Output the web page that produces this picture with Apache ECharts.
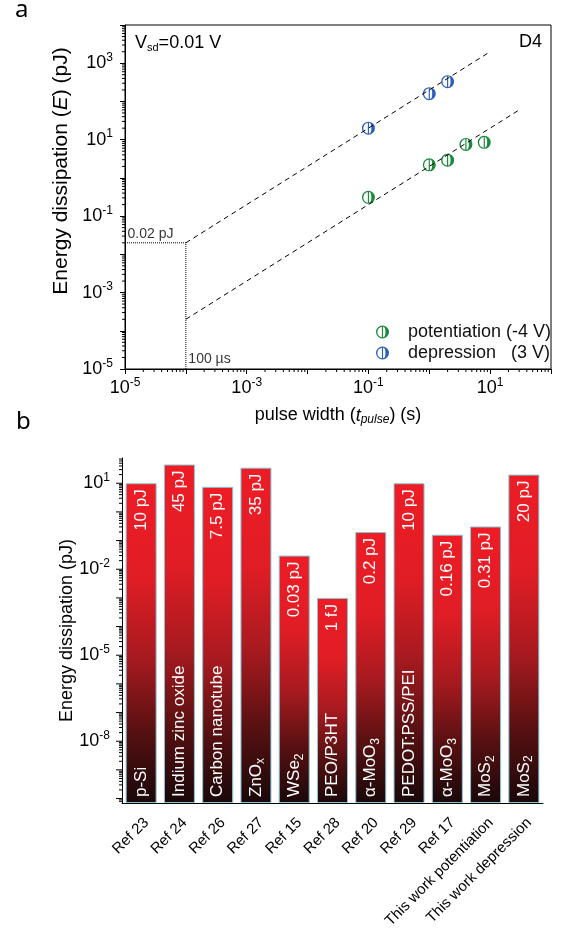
<!DOCTYPE html>
<html>
<head>
<meta charset="utf-8">
<script src="https://cdn.jsdelivr.net/npm/echarts@6.0.0/dist/echarts.min.js"></script>
<style>
html,body{margin:0;padding:0;background:#fff;}
#chart{width:569px;height:929px;}
</style>
</head>
<body>
<div id="chart"></div>
<script>
// a: 能耗 vs 脉冲宽度
var depressionPts = [[0.1, 20], [1, 160], [2, 330]];
var potentiationPts = [[0.1, 0.31], [1, 2.2], [2, 2.9], [4, 7.5], [8, 8.5]];
var fitDepression = [[1e-4, 0.02], [10, 2000]];
var fitPotentiation = [[1e-4, 2e-4], [30, 60]];
var guidePts = [[1e-5, 0.02], [1e-4, 0.02], [1e-4, 1e-5]];
var legendNames = ['potentiation (-4 V)', 'depression   (3 V)'];

// b: 与文献对比
var refNames = ['Ref 23', 'Ref 24', 'Ref 26', 'Ref 27', 'Ref 15', 'Ref 28', 'Ref 20', 'Ref 29', 'Ref 17', 'This work potentiation', 'This work depression'];
var materials = ['p-Si', 'Indium zinc oxide', 'Carbon nanotube', 'ZnO{sub|x}', 'WSe{sub|2}', 'PEO/P3HT', 'α-MoO{sub|3}', 'PEDOT:PSS/PEI', 'α-MoO{sub|3}', 'MoS{sub|2}', 'MoS{sub|2}'];
var energyVals = [10, 45, 7.5, 35, 0.03, 0.001, 0.2, 10, 0.16, 0.31, 20];
var energyText = ['10 pJ', '45 pJ', '7.5 pJ', '35 pJ', '0.03 pJ', '1 fJ', '0.2 pJ', '10 pJ', '0.16 pJ', '0.31 pJ', '20 pJ'];

var FONT = '"Liberation Sans", Arial, sans-serif';
var markerPath = 'path://M0 -10A10 10 0 1 1 0 10A10 10 0 1 1 0 -10ZM-0.9 -8.2A8.3 8.3 0 0 0 -0.9 8.2ZM0.9 -8.2L0.9 8.2A3.6 8.2 0 0 0 0.9 -8.2Z';
var bMin = 7e-11, bMax = 76;

// 对数轴的次刻度 (2..9)
function minorTicks(lo, hi) {
    var out = [];
    for (var k = -12; k <= 4; k++) {
        for (var m = 2; m <= 9; m++) {
            var v = m * Math.pow(10, k);
            if (v > lo && v < hi) out.push(v);
        }
    }
    return out;
}
var topTicks = [];
minorTicks(1e-5, 1e4).forEach(function (v) { topTicks.push([1e-5, v, 0]); });
minorTicks(1e-5, 1e2).forEach(function (v) { topTicks.push([v, 1e-5, 1]); });

var botTicks = [];
for (var k = -11; k <= 2; k++) {
    var d = Math.pow(10, k);
    if (d >= bMin && d <= bMax) botTicks.push([0, d, 1, (k - 1) % 3 === 0 ? 1 : 0]);
}
minorTicks(bMin, bMax).forEach(function (v) { botTicks.push([0, v, 0, 0]); });

function supFmt(v) {
    var e = Math.round(Math.log10(v));
    if (Math.abs(e) % 2 !== 1) return '';
    return '10{sup|' + e + '}';
}
var supRich = { sup: { fontSize: 12, fontFamily: FONT, color: '#000', padding: [0, 0, 11, 0] } };

var barGrad = new echarts.graphic.LinearGradient(0, 0, 0, 1, [
    { offset: 0, color: '#ee1c25' },
    { offset: 0.3, color: '#e01d25' },
    { offset: 0.55, color: '#a61a1f' },
    { offset: 0.78, color: '#561011' },
    { offset: 1, color: '#1a0809' }
]);

var chart = echarts.init(document.getElementById('chart'));
chart.setOption({
    animation: false,
    backgroundColor: '#fff',
    textStyle: { fontFamily: FONT },
    title: [
        {
            text: 'V{sub|sd}=0.01 V', left: 135, top: 33, padding: 0,
            textStyle: { fontSize: 18, fontWeight: 'normal', color: '#000', fontFamily: FONT,
                rich: { sub: { fontSize: 11, fontFamily: FONT, color: '#000', padding: [9, 0, 0, 0] } } }
        },
        {
            text: 'D4', right: 27, top: 33, padding: 0,
            textStyle: { fontSize: 18, fontWeight: 'normal', color: '#000', fontFamily: FONT }
        }
    ],
    graphic: [
        { type: 'text', left: 15, top: -2, style: { text: 'a', font: '24px "Noto Sans", sans-serif', fill: '#000' } },
        { type: 'text', left: 16, top: 410, style: { text: 'b', font: '24px "Noto Sans", sans-serif', fill: '#000' } }
    ],
    legend: {
        orient: 'vertical', left: 376, top: 323, padding: 0, itemGap: 3,
        itemWidth: 13, itemHeight: 13,
        data: [{ name: legendNames[0], icon: markerPath }, { name: legendNames[1], icon: markerPath }],
        textStyle: { fontSize: 18, color: '#111', fontFamily: FONT, padding: [0, 0, 0, 14] }
    },
    grid: [
        { left: 125, top: 25, width: 426, height: 344, show: true, borderColor: '#000', borderWidth: 1, backgroundColor: 'transparent', outerBoundsMode: 'none' },
        { left: 122, top: 458, width: 421, height: 345, outerBoundsMode: 'none' }
    ],
    xAxis: [
        {
            type: 'log', logBase: 10, gridIndex: 0, min: 1e-5, max: 100,
            axisLine: { lineStyle: { color: '#000' } },
            axisTick: { length: 5, lineStyle: { color: '#000' } },
            splitLine: { show: false },
            axisLabel: { formatter: supFmt, fontSize: 18, color: '#000', margin: 8, rich: supRich },
            name: 'pulse width ({i|t}{isub|pulse}) (s)', nameLocation: 'middle', nameGap: 36,
            nameTextStyle: { fontSize: 18, color: '#000', fontFamily: FONT,
                rich: { i: { fontSize: 18, fontStyle: 'italic', fontFamily: FONT, color: '#000' },
                        isub: { fontSize: 12, fontStyle: 'italic', fontFamily: FONT, color: '#000', padding: [9, 0, 0, 0] } } }
        },
        {
            type: 'category', gridIndex: 1, position: 'bottom', data: refNames,
            axisLine: { lineStyle: { color: '#000' } },
            axisTick: { alignWithLabel: true, length: 6, lineStyle: { color: '#000' } },
            axisLabel: { interval: 0, rotate: 45, fontSize: 15, color: '#000', margin: 12, verticalAlign: 'top' }
        },
        {
            type: 'category', gridIndex: 1, position: 'bottom', data: refNames,
            axisLine: { show: false },
            axisTick: { length: 3, interval: 0, lineStyle: { color: '#000' } },
            axisLabel: { show: false }
        }
    ],
    yAxis: [
        {
            type: 'log', logBase: 10, gridIndex: 0, min: 1e-5, max: 1e4,
            axisLine: { lineStyle: { color: '#000' } },
            axisTick: { length: 5, lineStyle: { color: '#000' } },
            splitLine: { show: false },
            axisLabel: { formatter: supFmt, fontSize: 18, color: '#000', margin: 12, rich: supRich },
            name: 'Energy dissipation ({i|E}) (pJ)', nameLocation: 'middle', nameRotate: 90, nameGap: 45,
            nameTextStyle: { fontSize: 21, color: '#000', fontFamily: FONT, padding: [0, 0, 0, 52],
                rich: { i: { fontSize: 21, fontStyle: 'italic', fontFamily: FONT, color: '#000' } } }
        },
        {
            type: 'log', logBase: 10, gridIndex: 1, min: bMin, max: bMax, startValue: bMin,
            axisLine: { show: true, lineStyle: { color: '#000' } },
            axisTick: { show: false },
            axisLabel: { show: false },
            splitLine: { show: false },
            name: 'Energy dissipation (pJ)', nameLocation: 'middle', nameRotate: 90, nameGap: 46,
            nameTextStyle: { fontSize: 18, color: '#000', fontFamily: FONT }
        }
    ],
    series: [
        {
            type: 'custom', xAxisIndex: 0, yAxisIndex: 0, silent: true, data: topTicks,
            renderItem: function (params, api) {
                var cs = params.coordSys;
                var p = api.coord([api.value(0), api.value(1)]);
                if (api.value(2) === 0) {
                    return { type: 'line', shape: { x1: cs.x - 3, y1: p[1], x2: cs.x, y2: p[1] }, style: { stroke: '#000', lineWidth: 1 } };
                }
                var yb = cs.y + cs.height;
                return { type: 'line', shape: { x1: p[0], y1: yb, x2: p[0], y2: yb + 3 }, style: { stroke: '#000', lineWidth: 1 } };
            }
        },
        {
            type: 'line', xAxisIndex: 0, yAxisIndex: 0, data: guidePts, symbol: 'none', silent: true,
            lineStyle: { color: '#000', width: 1, type: 'dotted' }
        },
        {
            type: 'line', xAxisIndex: 0, yAxisIndex: 0, data: fitDepression, symbol: 'none', silent: true,
            lineStyle: { color: '#000', width: 1, type: [5, 4] }
        },
        {
            type: 'line', xAxisIndex: 0, yAxisIndex: 0, data: fitPotentiation, symbol: 'none', silent: true,
            lineStyle: { color: '#000', width: 1, type: [5, 4] }
        },
        {
            name: legendNames[0], type: 'scatter', xAxisIndex: 0, yAxisIndex: 0,
            data: potentiationPts, symbol: markerPath, symbolSize: 13,
            itemStyle: { color: '#178a3b', opacity: 1 }
        },
        {
            name: legendNames[1], type: 'scatter', xAxisIndex: 0, yAxisIndex: 0,
            data: depressionPts, symbol: markerPath, symbolSize: 13,
            itemStyle: { color: '#2b5fbf', opacity: 1 }
        },
        {
            type: 'scatter', xAxisIndex: 0, yAxisIndex: 0, silent: true, symbolSize: 1,
            itemStyle: { color: 'rgba(0,0,0,0)' },
            label: { show: true, fontSize: 14, color: '#000', fontFamily: FONT },
            data: [
                { value: guidePts[0], label: { formatter: '0.02 pJ', position: [3, -15] } },
                { value: guidePts[2], label: { formatter: '100 µs', position: [3, -16] } }
            ]
        },
        {
            type: 'bar', xAxisIndex: 1, yAxisIndex: 1, data: energyVals, barWidth: 31,
            itemStyle: { color: barGrad, borderColor: '#86c6d6', borderWidth: 1 },
            label: {
                show: true, position: 'insideTop', distance: 6, rotate: 90, align: 'right', verticalAlign: 'middle',
                color: '#fff', fontSize: 17, fontFamily: FONT,
                formatter: function (p) { return energyText[p.dataIndex]; }
            }
        },
        {
            type: 'bar', xAxisIndex: 1, yAxisIndex: 1, data: energyVals, barWidth: 31, barGap: '-100%',
            itemStyle: { color: 'rgba(0,0,0,0)' },
            label: {
                show: true, position: 'insideBottom', distance: 6, rotate: 90, align: 'left', verticalAlign: 'middle',
                color: '#fff', fontSize: 17, fontFamily: FONT,
                formatter: function (p) { return materials[p.dataIndex]; },
                rich: { sub: { fontSize: 12, color: '#fff', fontFamily: FONT, padding: [10, 0, 0, 0] } }
            }
        },
        {
            type: 'custom', xAxisIndex: 1, yAxisIndex: 1, silent: true, data: botTicks,
            renderItem: function (params, api) {
                var cs = params.coordSys;
                var v = api.value(1);
                var y = api.coord([0, v])[1];
                var len = api.value(2) === 1 ? 6 : 3;
                var kids = [{ type: 'line', shape: { x1: cs.x - len, y1: y, x2: cs.x, y2: y }, style: { stroke: '#000', lineWidth: 1 } }];
                if (api.value(3) === 1) {
                    kids.push({
                        type: 'text',
                        style: {
                            text: '10{sup|' + Math.round(Math.log10(v)) + '}', x: cs.x - 12, y: y,
                            align: 'right', verticalAlign: 'middle', fill: '#000',
                            fontSize: 18, fontFamily: FONT, rich: supRich
                        }
                    });
                }
                return { type: 'group', children: kids };
            }
        }
    ]
});
</script>
</body>
</html>
